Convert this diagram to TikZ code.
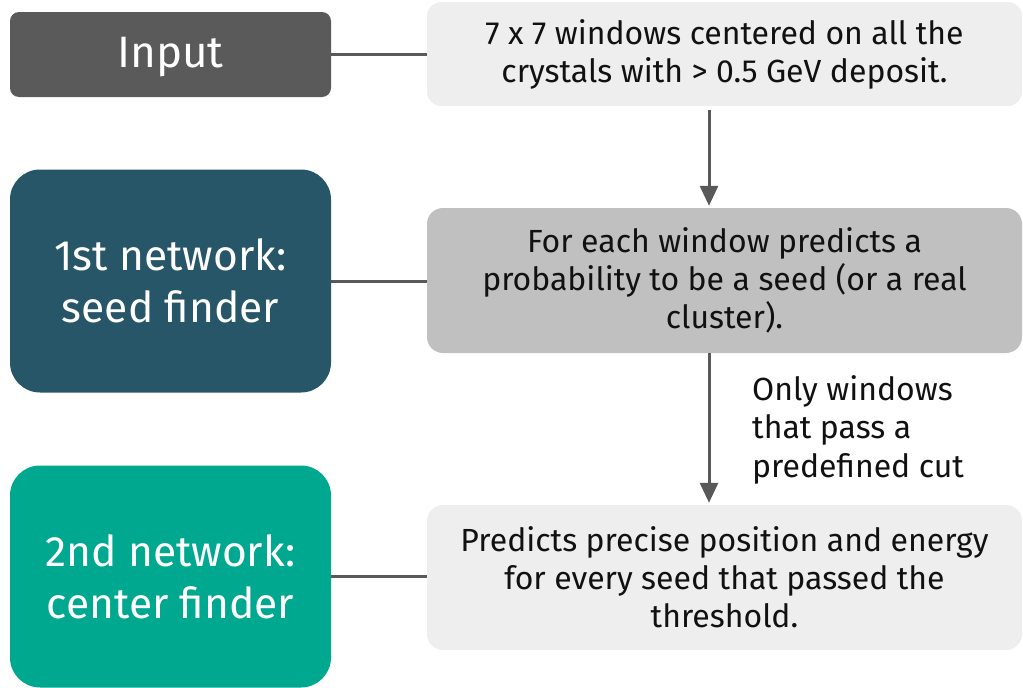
\documentclass[tikz,border=0pt]{standalone}
\usepackage{fontspec}
\setmainfont{Fira Sans}
\usetikzlibrary{arrows.meta}
\definecolor{inputgray}{HTML}{5A5A5A}
\definecolor{seedblue}{HTML}{265667}
\definecolor{centergreen}{HTML}{00A890}
\definecolor{lightbox}{HTML}{EEEEEE}
\definecolor{midbox}{HTML}{C0C0C0}
\definecolor{linkgray}{HTML}{595959}
\definecolor{inktext}{HTML}{111111}
\begin{document}
\begin{tikzpicture}[x=1pt,y=-1pt,
  stage/.style={fill=#1, rounded corners=30pt, minimum width=321pt, minimum height=223pt,
    text=white, align=center, inner sep=0pt, font=\fontsize{42.5}{52}\selectfont},
  infobox/.style={fill=#1, rounded corners=16pt, minimum width=595pt,
    text=inktext, align=center, inner sep=0pt, font=\fontsize{32}{38}\selectfont},
  link/.style={draw=linkgray, line width=3pt},
  flow/.style={draw=linkgray, line width=3pt, -{Triangle[length=20pt,width=18pt]}},
  note/.style={text=inktext, align=left, inner sep=0pt, font=\fontsize{32}{38.5}\selectfont}
]
\useasboundingbox (0,0) rectangle (1023,688);

% left column: stage labels
\node[stage=inputgray, minimum height=85pt, rounded corners=9pt] (input) at (170.5,54.5) {};
\node[text=white, font=\fontsize{44}{52}\selectfont, inner sep=0pt] (inputlabel) at (170.5,57) {Input};
\node[stage=seedblue] (net1) at (170.5,281) {1st network:\\seed finder};
\node[stage=centergreen, minimum height=222pt] (net2) at (170.5,576.5) {2nd network:\\center finder};

% right column: descriptions
\node[infobox=lightbox, minimum height=104pt, rounded corners=14pt] (desc0) at (724.5,54)
  {7 x 7 windows centered on all the\\crystals with > 0.5 GeV deposit.};
\node[infobox=midbox, minimum height=145pt] (desc1) at (724.5,280.5)
  {For each window predicts a\\probability to be a seed (or a real\\cluster).};
\node[infobox=lightbox, minimum height=145pt] (desc2) at (724.5,577.5)
  {Predicts precise position and energy\\for every seed that passed the\\threshold.};

% horizontal links
\draw[link] (input.east) -- (desc0.west |- input.east);
\draw[link] (net1.east) -- (desc1.west |- net1.east);
\draw[link] (net2.east) -- (desc2.west |- net2.east);

% vertical flow
\coordinate (axis) at (709,0);
\draw[flow, shorten <=4pt, shorten >=2pt] (desc0.south -| axis) -- (desc1.north -| axis);
\draw[flow, shorten >=2pt] (desc1.south -| axis) -- (desc2.north -| axis);

\node[note, anchor=north west] (cut) at (752,375)
  {Only windows\\that pass a\\predefined cut};
\end{tikzpicture}
\end{document}
